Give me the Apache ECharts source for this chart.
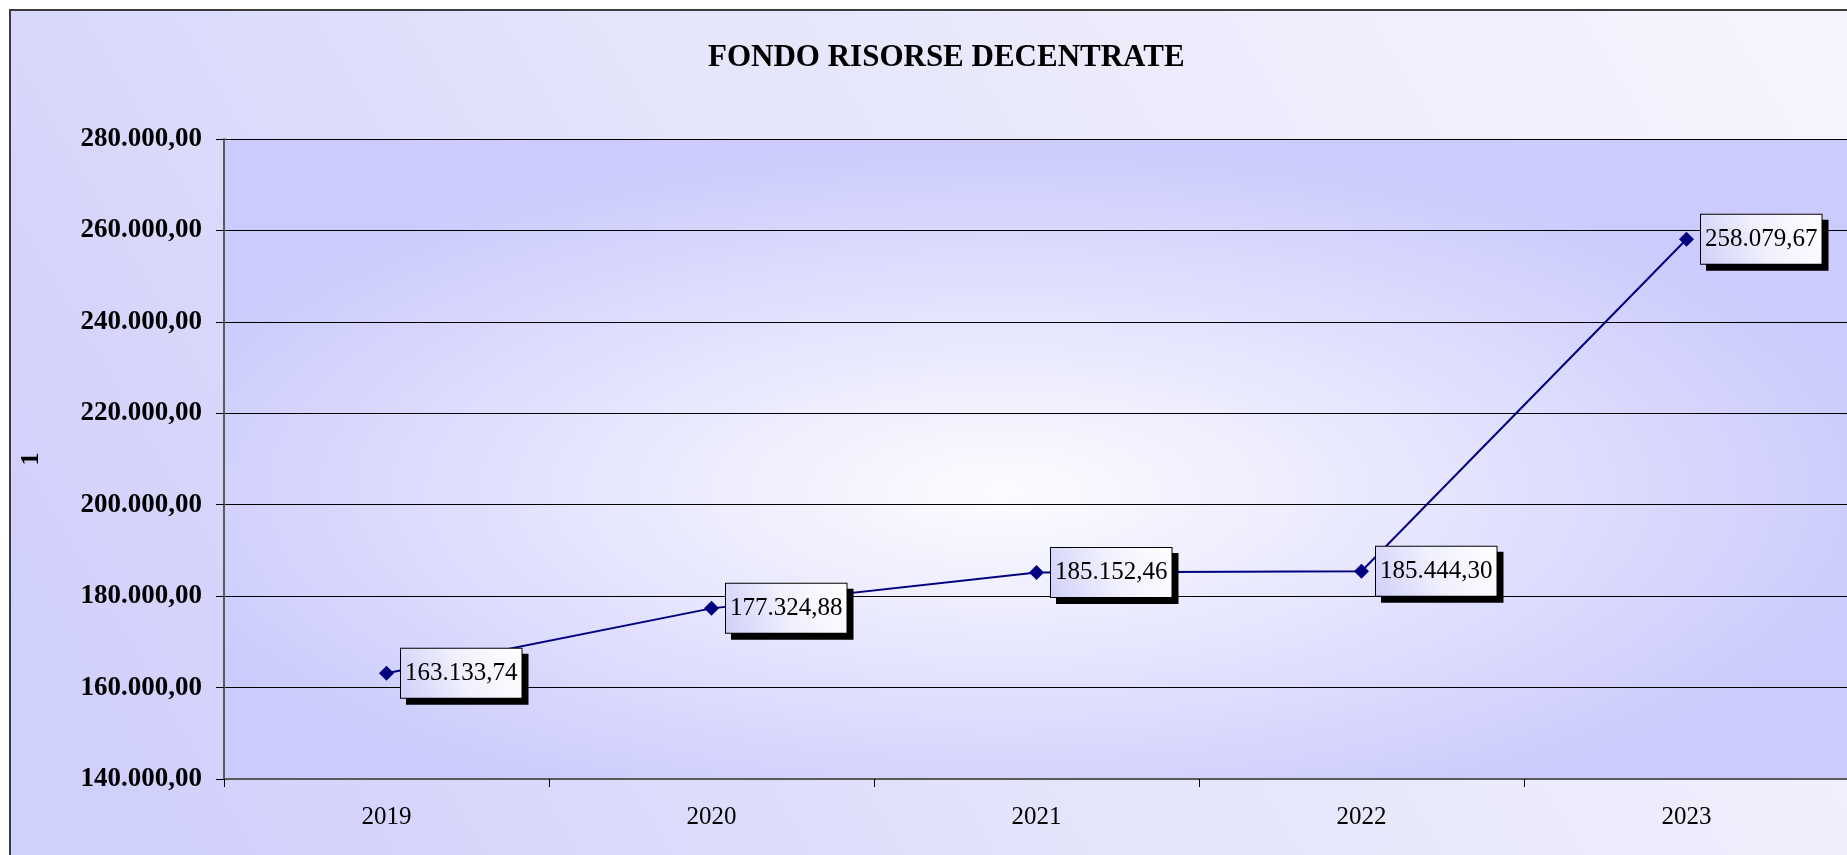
<!DOCTYPE html>
<html>
<head>
<meta charset="utf-8">
<title>Fondo risorse decentrate</title>
<script src="https://cdn.jsdelivr.net/npm/echarts@6/dist/echarts.min.js"></script>
<style>
  html, body { margin: 0; padding: 0; background: #ffffff; }
  #main { width: 1847px; height: 855px; }
</style>
</head>
<body>
<div id="main"></div>
<script>
// dati
var anni = ['2019', '2020', '2021', '2022', '2023'];
var fondo = [163133.74, 177324.88, 185152.46, 185444.30, 258079.67];
var asseMin = 140000;
var asseMax = 280000;
var passo = 20000;

var serif = '"Liberation Serif", "Times New Roman", serif';

// formato italiano: 163.133,74
function formatta(v) {
  var parti = Number(v).toFixed(2).split('.');
  parti[0] = parti[0].replace(/\B(?=(\d{3})+(?!\d))/g, '.');
  return parti[0] + ',' + parti[1];
}

var chart = echarts.init(document.getElementById('main'), null, { renderer: 'canvas' });

// area del grafico (px)
var gLeft = 224, gTop = 139, gRight = -2, gBottom = 76;
var gW = 1847 - gLeft - gRight;
var gH = 855 - gTop - gBottom;

var option = {
  backgroundColor: '#ffffff',
  animation: false,
  title: {
    text: 'FONDO RISORSE DECENTRATE',
    left: 703,
    top: 37,
    textStyle: { fontFamily: serif, fontWeight: 'bold', fontSize: 31, color: '#000000' }
  },
  graphic: [
    {
      type: 'rect',
      z: -20,
      silent: true,
      shape: { x: 10, y: 10, width: 1900, height: 900 },
      style: {
        fill: {
          type: 'linear', x: 0.9, y: 0, x2: 0.1, y2: 1,
          colorStops: [
            { offset: 0, color: '#f4f4fe' },
            { offset: 0.55, color: '#e4e4fb' },
            { offset: 1, color: '#d0d0fc' }
          ]
        },
        stroke: '#3c3c3c',
        lineWidth: 2
      }
    },
    {
      // sfondo dell'area del tracciato: gradiente ellittico
      type: 'rect',
      z: -10,
      silent: true,
      x: gLeft,
      y: gTop,
      scaleX: gW / gH,
      shape: { x: 0, y: 0, width: gH, height: gH },
      style: {
        fill: {
          type: 'radial', x: 0.48, y: 0.55, r: 0.55,
          colorStops: [
            { offset: 0, color: '#fcfcff' },
            { offset: 0.35, color: '#ececfe' },
            { offset: 1, color: '#cbcbfd' }
          ]
        }
      }
    }
  ],
  grid: {
    left: gLeft,
    top: gTop,
    right: gRight,
    bottom: gBottom,
    containLabel: false,
    outerBoundsMode: 'none'
  },
  xAxis: {
    type: 'category',
    data: anni,
    boundaryGap: true,
    axisLine: { show: true, lineStyle: { color: '#5a5a5a', width: 2 } },
    axisTick: { show: true, inside: false, length: 8, alignWithLabel: false, lineStyle: { color: '#000000', width: 1 } },
    axisLabel: { margin: 26, fontFamily: serif, fontSize: 25, color: '#000000' },
    splitLine: { show: false }
  },
  yAxis: {
    type: 'value',
    min: asseMin,
    max: asseMax,
    interval: passo,
    name: '1',
    nameLocation: 'middle',
    nameGap: 180,
    nameTextStyle: { fontFamily: serif, fontWeight: 'bold', fontSize: 26, color: '#000000' },
    axisLine: { show: true, lineStyle: { color: '#5a5a5a', width: 2 } },
    axisTick: { show: true, inside: false, length: 8, lineStyle: { color: '#000000', width: 1 } },
    axisLabel: {
      margin: 22,
      fontFamily: serif,
      fontWeight: 'bold',
      fontSize: 27,
      color: '#000000',
      formatter: formatta
    },
    splitLine: { show: true, lineStyle: { color: '#000000', width: 1 } }
  },
  series: [
    {
      name: 'Fondo',
      type: 'line',
      data: fondo,
      symbol: 'diamond',
      symbolSize: 15,
      lineStyle: { color: '#000080', width: 2 },
      itemStyle: { color: '#000080' },
      label: {
        show: true,
        position: 'right',
        distance: 7,
        formatter: function (p) { return formatta(p.value); },
        fontFamily: serif,
        fontSize: 25,
        lineHeight: 27,
        color: '#000000',
        padding: [11, 4, 11, 4],
        borderColor: '#000000',
        borderWidth: 1,
        backgroundColor: {
          type: 'linear', x: 1, y: 0, x2: 0, y2: 1,
          colorStops: [
            { offset: 0, color: '#ffffff' },
            { offset: 0.5, color: '#f0f0fe' },
            { offset: 1, color: '#cfcff8' }
          ]
        },
        shadowColor: '#000000',
        shadowBlur: 0,
        shadowOffsetX: 6,
        shadowOffsetY: 6
      }
    }
  ]
};

chart.setOption(option);
</script>
</body>
</html>
